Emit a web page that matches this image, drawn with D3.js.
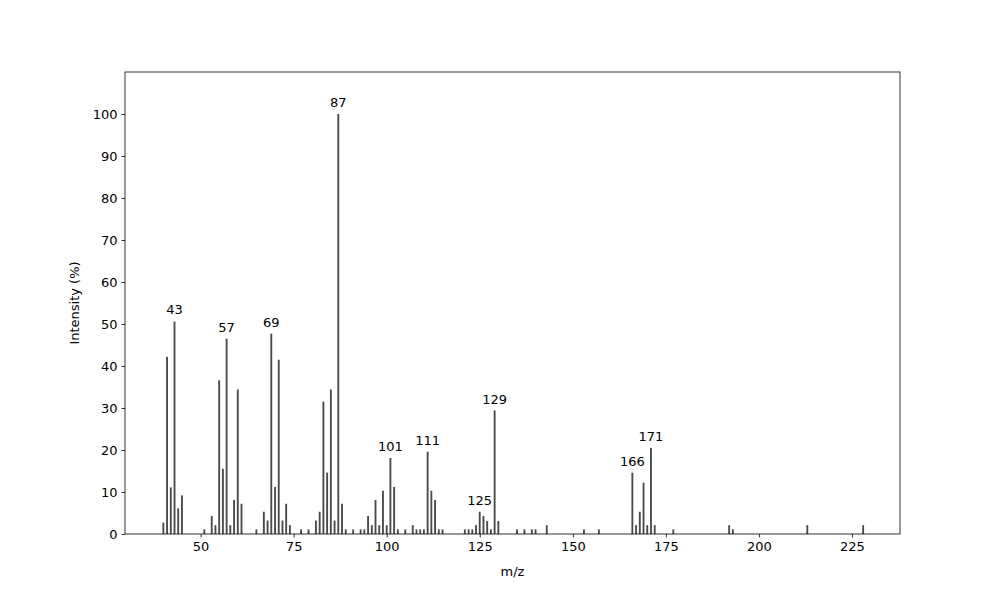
<!DOCTYPE html>
<html><head><meta charset="utf-8">
<script src="https://cdn.jsdelivr.net/npm/d3@7"></script>
<style>body{margin:0;background:#fff}text{font-family:"DejaVu Sans",sans-serif}</style>
</head><body><svg id="c" width="1000" height="600"></svg>
<script>
const mz = [40,41,42,43,44,45,51,53,54,55,56,57,58,59,60,61,
  65,67,68,69,70,71,72,73,74,77,79,81,82,83,84,85,86,87,88,
  89,91,93,94,95,96,97,98,99,100,101,102,103,105,107,108,109,110,111,112,113,114,115,
  121,122,123,124,125,126,127,128,129,130,135,137,139,140,143,
  153,157,166,167,168,169,170,171,172,177,192,193,213,228];
const intensity = [2.7,42.2,11.1,50.6,6.1,9.2,1.1,4.3,2.1,36.6,15.5,46.5,2.1,8.1,34.4,7.2,
  1.1,5.3,3.2,47.7,11.2,41.5,3.2,7.2,2.1,1.1,1.1,3.2,5.3,31.5,14.6,34.4,3.2,100,7.2,
  1.1,1.1,1.1,1.1,4.3,2.1,8.1,2.1,10.3,2.1,18.1,11.2,1.1,1.1,2.1,1.1,1.1,1.1,19.6,10.3,8.1,1.1,1.1,
  1.1,1.1,1.1,2.1,5.3,4.3,3.1,1.1,29.4,3.1,1.1,1.1,1.1,1.1,2.1,
  1.1,1.1,14.6,2.1,5.3,12.2,2.1,20.5,2.1,1.1,2.1,1.1,2.1,2.1];
const labeled = [43,57,69,87,101,111,125,129,166,171];
const xTicks = [50,75,100,125,150,175,200,225];
const yTicks = [0,10,20,30,40,50,60,70,80,90,100];

const svg = d3.select("#c");
const L=125,R=900,T=72,B=534;
const x = d3.scaleLinear().domain([29.7,237.9]).range([L,R]);
const y = d3.scaleLinear().domain([0,110]).range([B,T]);
const bw = 0.5;
const data = mz.map((m,i)=>({m, v:intensity[i]}));

svg.append("g").selectAll("rect").data(data).join("rect")
  .attr("x", d=>x(d.m - bw/2)).attr("width", x(bw)-x(0))
  .attr("y", d=>y(d.v)).attr("height", d=>y(0)-y(d.v))
  .attr("fill","#4a4a4a");

svg.append("g").selectAll("text").data(data.filter(d=>labeled.includes(d.m))).join("text")
  .attr("x", d=>x(d.m)).attr("y", d=>y(d.v)-7)
  .attr("text-anchor","middle").attr("font-size","13px").attr("fill","#000")
  .text(d=>d.m);

const xa = svg.append("g").attr("transform",`translate(0,${B})`)
  .call(d3.axisBottom(x).tickValues(xTicks).tickSize(3.5).tickPadding(4).tickFormat(d3.format("d")));
const ya = svg.append("g").attr("transform",`translate(${L},0)`)
  .call(d3.axisLeft(y).tickValues(yTicks).tickSize(3.5).tickPadding(4).tickFormat(d3.format("d")));
[xa,ya].forEach(a=>{a.select(".domain").remove();a.selectAll("text").attr("font-size","13px").attr("fill","#000").style("font-family","DejaVu Sans");a.selectAll("line").attr("stroke","#000").attr("stroke-width",0.8);});

svg.append("rect").attr("x",L).attr("y",T).attr("width",R-L).attr("height",B-T)
  .attr("fill","none").attr("stroke","#000").attr("stroke-width",0.8);

svg.append("text").attr("x",(L+R)/2).attr("y",576).attr("text-anchor","middle")
  .attr("font-size","13px").text("m/z");
svg.append("text").attr("transform",`translate(79,${(T+B)/2}) rotate(-90)`).attr("text-anchor","middle")
  .attr("font-size","13px").text("Intensity (%)");
</script></body></html>
